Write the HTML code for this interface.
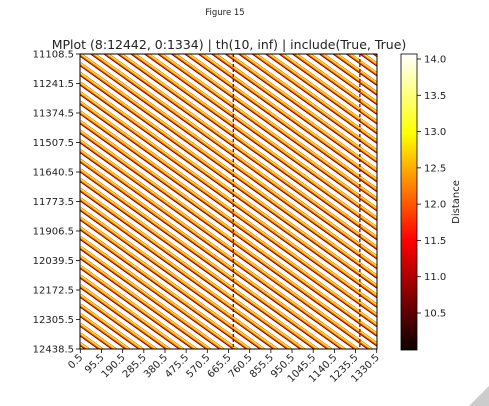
<!DOCTYPE html>
<html><head><meta charset="utf-8"><style>
html,body{margin:0;background:#fff;width:489px;height:406px;overflow:hidden;font-family:"Liberation Sans","DejaVu Sans",sans-serif}
svg{display:block}
text{font-family:"DejaVu Sans","Liberation Sans",sans-serif;fill:#222}
</style></head><body>
<svg id="fig" width="489" height="406" viewBox="0 0 489 406">
<defs>
<linearGradient id="hot" x1="0" y1="1" x2="0" y2="0">
<stop offset="0" stop-color="#0a0000"/><stop offset="0.37" stop-color="#ff0000"/>
<stop offset="0.73" stop-color="#ffff00"/><stop offset="1" stop-color="#ffffff"/>
</linearGradient>
<clipPath id="pc"><rect x="80" y="54" width="297" height="295"/></clipPath>
</defs>
<text x="225" y="15" font-size="8.5" text-anchor="middle">Figure 15</text>
<text x="229" y="49" font-size="12.5" text-anchor="middle">MPlot (8:12442, 0:1334) | th(10, inf) | include(True, True)</text>
<rect x="80" y="54" width="297" height="295" fill="#fff"/>
<g id="marks" clip-path="url(#pc)"></g>
<rect x="80" y="54" width="297" height="295" fill="none" stroke="#000" stroke-width="1"/>
<g id="axes"></g>
<rect x="401" y="54" width="16" height="296" fill="url(#hot)" stroke="#000" stroke-width="0.8"/>
<text transform="translate(459,202) rotate(-90)" font-size="10" text-anchor="middle">Distance</text>
<polygon points="489,386 489,406 469,406" fill="#ccc"/>
</svg>
<script>
const xTicks=[0.5,95.5,190.5,285.5,380.5,475.5,570.5,665.5,760.5,855.5,950.5,1045.5,1140.5,1235.5,1330.5];
const yTicks=[11108.5,11241.5,11374.5,11507.5,11640.5,11773.5,11906.5,12039.5,12172.5,12305.5,12438.5];
const cbTicks=[10.5,11.0,11.5,12.0,12.5,13.0,13.5,14.0];
const stripeIntercepts=[10150,10193,10237,10280,10324,10367,10411,10454,10498,10541,10585,10628,10672,10715,10759,10802,10846,10889,10933,10976,11020,11063,11107,11150,11194,11237,11281,11324,11368,11411,11455,11498,11542,11585,11629,11672,11716,11759,11803,11846,11890,11933,11977,12020,12064,12107,12151,12194,12238,12281,12325,12368,12412,12455];
const stripeSlope=[0.72];
const breakCols=[687,1255];
const NS='http://www.w3.org/2000/svg';
const X=c=>80.3+(c-0.5)*(376.7-80.3)/1330;
const Y=r=>54+(r-11108.5)*295/1330;
const CB=v=>59+(14.0-v)*(313-59)/3.5;
const marks=document.getElementById('marks'),axes=document.getElementById('axes');
function mk(t,a,p){const e=document.createElementNS(NS,t);for(const k in a)e.setAttribute(k,a[k]);(p||marks).appendChild(e);return e;}
const layers=[{c:'#7a0000',w:3.8,d:0.9},{c:'#ff5a00',w:3.0,d:0.3},{c:'#ffc800',w:1.6,d:0},{c:'#ffff50',w:0.6,d:-0.3}];
layers.forEach(L=>{
 stripeIntercepts.forEach(b=>{
  const c0=0,c1=1334;
  const l=mk('line',{x1:X(c0),y1:Y(b+stripeSlope[0]*c0)+L.d,x2:X(c1),y2:Y(b+stripeSlope[0]*c1)+L.d,stroke:L.c,'stroke-width':L.w});
  
  
 });
});
breakCols.forEach(c=>{
 const l=mk('line',{x1:X(c),y1:54,x2:X(c),y2:349,stroke:'#5a0000','stroke-width':1.2,'stroke-dasharray':'3 2'});
 
 
});
xTicks.forEach(v=>{
 const x=X(v);
 mk('line',{x1:x,y1:349,x2:x,y2:353,stroke:'#000','stroke-width':0.8},axes);
 const t=mk('text',{transform:`translate(${x+3},${358}) rotate(-45)`,'font-size':10,'text-anchor':'end'},axes);
 t.textContent=v.toFixed(1);
 
 
});
yTicks.forEach(v=>{
 const y=Y(v);
 mk('line',{x1:76,y1:y,x2:80,y2:y,stroke:'#000','stroke-width':0.8},axes);
 const t=mk('text',{x:74,y:y+3.5,'font-size':10,'text-anchor':'end'},axes);
 t.textContent=v.toFixed(1);
 
 
});
cbTicks.forEach(v=>{
 const y=CB(v);
 mk('line',{x1:417,y1:y,x2:421,y2:y,stroke:'#000','stroke-width':0.8},axes);
 const t=mk('text',{x:424,y:y+3.5,'font-size':10},axes);
 t.textContent=v.toFixed(1);
 
 
});
</script>
</body></html>
